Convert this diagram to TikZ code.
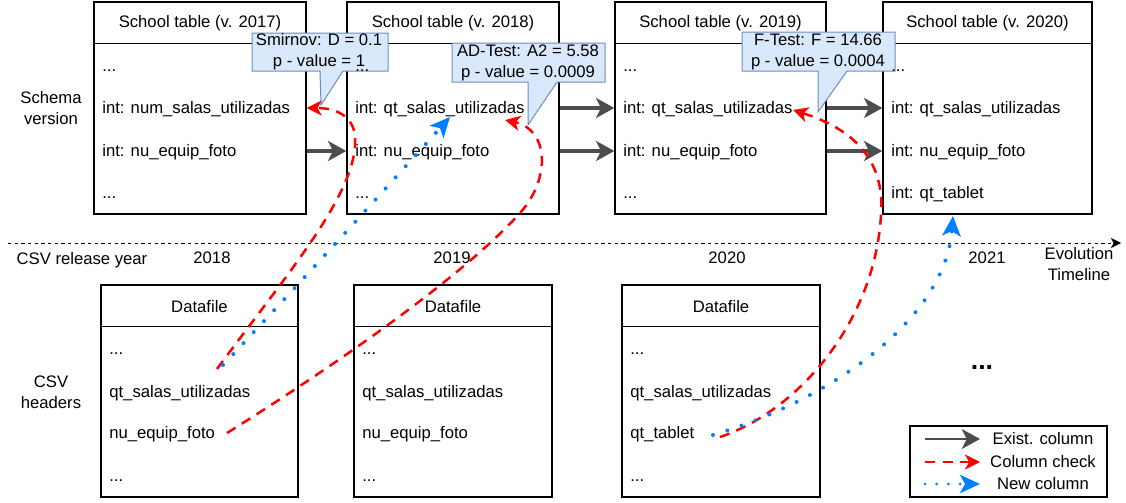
\documentclass[tikz,border=0pt]{standalone}
\usepackage{fontspec}
\setmainfont{Liberation Sans}
\usepackage{tikz}
\usetikzlibrary{calc, fit, arrows.meta}
\definecolor{arrowgray}{HTML}{4D4D4D}
\definecolor{newblue}{HTML}{007FFF}
\definecolor{notefill}{HTML}{DAE8FC}
\definecolor{noteedge}{HTML}{6C8EBF}
\tikzstyle{tbl}      = [draw, line width=0.8pt, inner sep=0pt]
\tikzstyle{hdr}      = [inner sep=0pt]
\tikzstyle{row}      = [anchor=west, inner sep=0pt, text height=1.5ex, text depth=.25ex]
\tikzstyle{lbl}      = [inner sep=0pt, align=center]
\tikzstyle{note}     = [draw=noteedge, fill=notefill, line width=0.6pt]
\tikzstyle{exist}    = [line width=2.4pt, draw=arrowgray, -{Stealth[length=11pt, width=12pt, inset=3pt, fill=arrowgray]}]
\tikzstyle{check}    = [line width=1.5pt, draw=red, dash pattern=on 6pt off 4.5pt, -{Stealth[length=9pt, width=9pt, inset=2.5pt, fill=red]}]
\tikzstyle{newcol}   = [line width=2.4pt, draw=newblue, line cap=round, dash pattern=on 0pt off 9pt, -{Stealth[length=12pt, width=11pt, inset=3pt, fill=newblue]}]
\tikzstyle{timeline} = [line width=0.6pt, dash pattern=on 2pt off 2pt, -{Stealth[length=6pt, width=6pt, inset=1.5pt]}]

\begin{document}
\begin{tikzpicture}[x=0.6pt, y=-0.6pt, font=\fontsize{10}{12.6}\selectfont]
    \useasboundingbox (0,0) rectangle (1126,502);

    % schema versions
    \foreach \n/\xa/\xb/\yr in {t1/94/306/2017, t2/347/559/2018, t3/615/826/2019, t4/883/1092/2020} {
      \node (\n) [tbl, fit={(\xa,2) (\xb,214)}] {};
      \draw [tbl] ($(\n.north west)+(0,42)$) -- ($(\n.north east)+(0,42)$);
      \node (\n-title) [hdr] at ($(\n.north)+(0,22)$) {School table (v. \yr)};
    }

    % csv files
    \foreach \n/\xa/\xb in {b1/101/298, b2/354/552, b3/622/820} {
      \node (\n) [tbl, fit={(\xa,285) (\xb,497)}] {};
      \draw [tbl] ($(\n.north west)+(0,42)$) -- ($(\n.north east)+(0,42)$);
      \node (\n-title) [hdr] at ($(\n.north)+(0,22)$) {Datafile};
    }

    % test callouts
    \draw [note] (252,33) -- (388,33) -- (388,71) -- (343,71) -- (321,105) -- (320,71) -- (252,71) -- cycle;
    \node (ks) [lbl] at (319,52) {Smirnov: D = 0.1\\p - value = 1};
    \draw [note] (452,43) -- (605,43) -- (605,82) -- (557,82) -- (528,125) -- (528,82) -- (452,82) -- cycle;
    \node (ad) [lbl] at (528,63) {AD-Test: A2 = 5.58\\p - value = 0.0009};
    \draw [note] (742,32) -- (895,32) -- (895,71) -- (847,71) -- (818,112) -- (818,71) -- (742,71) -- cycle;
    \node (ft) [lbl] at (818,52) {F-Test: F = 14.66\\p - value = 0.0004};

    % schema columns
    \foreach \n/\x in {t1/102, t2/355, t3/623, t4/891}
      \node (\n r1) [row] at (\x,66) {...};
    \node (t1r2) [row] at (102,108) {int: num\_salas\_utilizadas};
    \node (t1r3) [row] at (102,151) {int: nu\_equip\_foto};
    \node (t1r4) [row] at (102,193) {...};
    \node (t2r2) [row] at (355,108) {int: qt\_salas\_utilizadas};
    \node (t2r3) [row] at (355,151) {int: nu\_equip\_foto};
    \node (t2r4) [row] at (355,193) {...};
    \node (t3r2) [row] at (623,108) {int: qt\_salas\_utilizadas};
    \node (t3r3) [row] at (623,151) {int: nu\_equip\_foto};
    \node (t3r4) [row] at (623,193) {...};
    \node (t4r2) [row] at (891,108) {int: qt\_salas\_utilizadas};
    \node (t4r3) [row] at (891,151) {int: nu\_equip\_foto};
    \node (t4r4) [row] at (891,193) {int: qt\_tablet};

    % csv headers
    \foreach \n/\x in {b1/109, b2/362, b3/630} {
      \node (\n r1) [row] at (\x,349) {...};
      \node (\n r2) [row] at (\x,392) {qt\_salas\_utilizadas};
      \node (\n r4) [row] at (\x,476) {...};
    }
    \node (b1r3) [row] at (109,433) {nu\_equip\_foto};
    \node (b2r3) [row] at (362,433) {nu\_equip\_foto};
    \node (b3r3) [row] at (630,433) {qt\_tablet};

    % labels and timeline
    \node (schema) [lbl] at (51,108) {Schema\\version};
    \node (csvh)   [lbl] at (51,392) {CSV\\headers};
    \node (year)   [lbl] at (82,260) {CSV release year};
    \node (y2018)  [lbl] at (212,258) {2018};
    \node (y2019)  [lbl] at (452,258) {2019};
    \node (y2020)  [lbl] at (727,258) {2020};
    \node (y2021)  [lbl] at (987,258) {2021};
    \node (evo)    [lbl] at (1079,264) {Evolution\\Timeline};
    \node (more)   [lbl, font=\fontsize{16}{18}\selectfont\bfseries] at (982,368) {...};
    \coordinate (tl0) at (8,243);
    \coordinate (tl1) at (1121,243);
    \draw [timeline] (tl0) -- (tl1);

    % existing columns
    \draw [exist] (t1.east |- t1r3) -- (t2.west |- t2r3);
    \draw [exist] (t2.east |- t2r2) -- (t3.west |- t3r2);
    \draw [exist] (t2.east |- t2r3) -- (t3.west |- t3r3);
    \draw [exist] (t3.east |- t3r2) -- (t4.west |- t4r2);
    \draw [exist] (t3.east |- t3r3) -- (t4.west |- t4r3);

    % column checks and new columns
    \coordinate (c1s) at (217,369);
    \coordinate (c2s) at (227,433);
    \coordinate (c2e) at (505,120);
    \coordinate (c3s) at (720,437);
    \coordinate (c3e) at (793,110);
    \coordinate (n1s) at (223,365);
    \coordinate (n1e) at (450,117);
    \coordinate (n2s) at (713,435);
    \coordinate (n2e) at (953,216);
    \draw [check] (c1s) .. controls (290,270) and (360,190) .. (355,135) .. controls (352,115) and (335,108) .. (t1.east |- t1r2);
    \draw [check] (c2s) .. controls (320,375) and (460,280) .. (520,213) .. controls (550,180) and (550,130) .. (c2e);
    \draw [check] (c3s) .. controls (800,410) and (875,320) .. (881,215) .. controls (886,150) and (840,125) .. (c3e);
    \draw [newcol] (n1s) .. controls (300,283) and (380,195) .. (n1e);
    \draw [newcol] (n2s) .. controls (830,400) and (945,320) .. (n2e);

    % legend
    \node (legend) [tbl, fit={(910,426) (1107,497)}] {};
    \coordinate (l1a) at (925,439);
    \coordinate (l1b) at (980,439);
    \coordinate (l2a) at (925,462);
    \coordinate (l2b) at (980,462);
    \coordinate (l3a) at (925,484);
    \coordinate (l3b) at (980,484);
    \draw [exist, line width=1.2pt] (l1a) -- (l1b);
    \draw [check] (l2a) -- (l2b);
    \draw [newcol, line width=1.8pt, dash pattern=on 0pt off 7pt] (l3a) -- (l3b);
    \node (lex) [lbl] at (1043,439) {Exist. column};
    \node (lch) [lbl] at (1043,462) {Column check};
    \node (lnw) [lbl] at (1043,484) {New column};

\end{tikzpicture}
\end{document}
